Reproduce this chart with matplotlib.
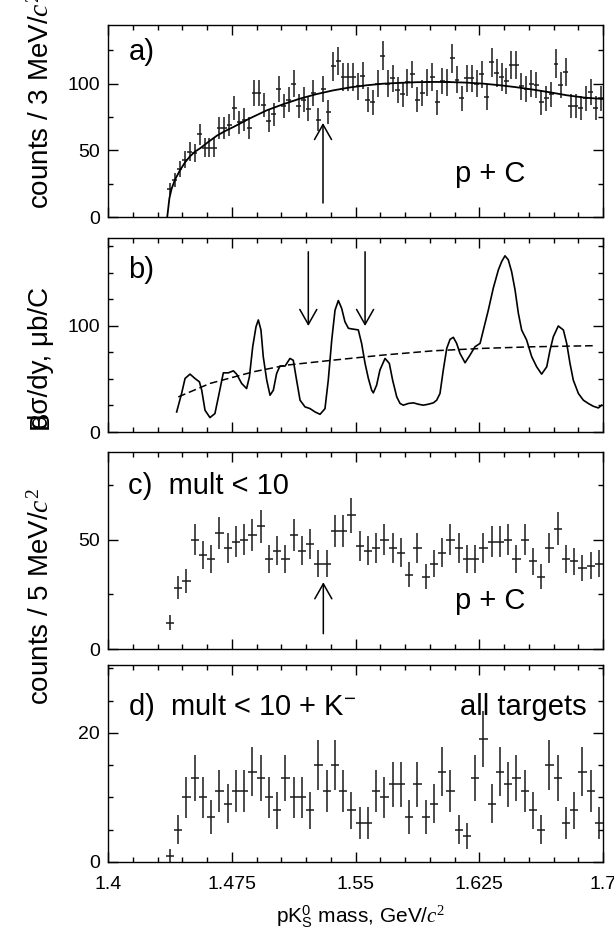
import numpy as np
import matplotlib
matplotlib.use("Agg")
import matplotlib.pyplot as plt
from matplotlib import font_manager as fm
from matplotlib.ticker import FixedLocator, MultipleLocator

# ---------------- data ----------------
# a) p + C, counts per 3 MeV/c^2
BIN_A = 0.003
mass_a = 1.4375 + BIN_A * np.arange(88)
counts_a = [21, 28, 36, 43, 49, 48, 62, 52, 52, 52,
            67, 67, 69, 82, 71, 73, 67, 93, 93, 84,
            72, 77, 96, 83, 88, 100, 83, 88, 81, 93,
            73, 96, 79, 113, 117, 105, 105, 105, 98, 106,
            88, 86, 100, 121, 100, 104, 95, 92, 101, 107,
            88, 93, 101, 105, 86, 102, 101, 119, 103, 89,
            104, 104, 100, 107, 90, 116, 108, 105, 102, 114,
            114, 98, 96, 100, 99, 86, 89, 92, 115, 99,
            109, 83, 83, 82, 89, 94, 82, 89]

# background fit drawn over a)
fit_mass_a = [1.4359, 1.4372, 1.4385, 1.4406, 1.4436, 1.4467, 1.4497, 1.4527,
              1.4558, 1.4610, 1.4660, 1.4710, 1.4760, 1.4860, 1.4962, 1.5060,
              1.5164, 1.5265, 1.5366, 1.5467, 1.5568, 1.5670, 1.5770, 1.5870,
              1.5970, 1.6070, 1.6170, 1.6275, 1.6376, 1.6477, 1.6578, 1.6679,
              1.6780, 1.6890, 1.7000]
fit_vals_a = [0, 14, 21, 28, 35, 41, 45.5, 49,
              51.5, 56.5, 61, 64.5, 67.5, 74, 80, 84.5,
              88.8, 92.2, 95, 97.2, 98.8, 100, 100.6, 101.1,
              101.3, 101.2, 100.8, 100, 98.8, 97.3, 95.5, 93.5,
              91.3, 89.5, 88.5]

# b) d sigma / dy spectrum and its smooth background
xsec_mass_b = [1.4416, 1.4446, 1.4467, 1.4497, 1.4527, 1.4554, 1.4568, 1.4588, 1.4618, 1.4648,
               1.4669, 1.4699, 1.4729, 1.4760, 1.4780, 1.4810, 1.4840, 1.4857, 1.4877, 1.4897,
               1.4911, 1.4927, 1.4941, 1.4962, 1.4982, 1.5002, 1.5022, 1.5042, 1.5073, 1.5103,
               1.5123, 1.5143, 1.5164, 1.5194, 1.5224, 1.5255, 1.5285, 1.5315, 1.5335, 1.5356,
               1.5376, 1.5396, 1.5416, 1.5436, 1.5457, 1.5487, 1.5517, 1.5537, 1.5558, 1.5578,
               1.5598, 1.5608, 1.5628, 1.5648, 1.5679, 1.5705, 1.5725, 1.5750, 1.5770, 1.5790,
               1.5820, 1.5851, 1.5881, 1.5911, 1.5941, 1.5972, 1.5992, 1.6012, 1.6032, 1.6053,
               1.6073, 1.6093, 1.6113, 1.6133, 1.6164, 1.6194, 1.6224, 1.6255, 1.6275, 1.6305,
               1.6335, 1.6366, 1.6386, 1.6406, 1.6426, 1.6446, 1.6467, 1.6487, 1.6507, 1.6537,
               1.6568, 1.6598, 1.6628, 1.6659, 1.6679, 1.6699, 1.6729, 1.6760, 1.6780, 1.6800,
               1.6820, 1.6851, 1.6881, 1.6911, 1.6941, 1.6972, 1.6992]
xsec_vals_b = [18.9, 36.3, 50.5, 54.6, 50.5, 47.3, 39.4, 20.5, 13.6, 17.4,
               33.0, 55.8, 55.8, 57.7, 54.5, 45.8, 41.0, 52.0, 80.4, 99.3,
               105.7, 96.2, 71.0, 48.9, 34.7, 39.4, 55.2, 62.2, 62.2, 69.4,
               67.6, 48.9, 30.0, 23.7, 22.1, 18.9, 16.7, 22.0, 48.9, 86.8,
               115.0, 124.0, 116.7, 104.0, 97.8, 97.0, 96.3, 83.6, 64.7, 50.5,
               39.4, 36.9, 44.2, 58.4, 69.4, 64.7, 48.9, 33.1, 26.9, 25.3,
               26.9, 27.5, 26.2, 25.3, 26.2, 27.5, 30.0, 36.3, 58.4, 78.9,
               87.4, 89.3, 83.6, 74.2, 65.3, 72.6, 80.4, 83.6, 96.2, 115.0,
               135.7, 153.0, 160.8, 166.2, 162.4, 151.4, 134.0, 112.0, 96.2, 86.8,
               71.0, 61.5, 54.6, 61.5, 77.3, 89.9, 100.0, 96.2, 83.6, 64.7,
               48.9, 36.3, 30.0, 26.9, 24.3, 22.7, 25.3]
bkg_mass_b = [1.4426, 1.4618, 1.4881, 1.5083, 1.5366, 1.5669, 1.5972, 1.6275, 1.6578, 1.6941]
bkg_vals_b = [33.1, 45.8, 56.8, 63.1, 67.8, 72.6, 76.6, 78.9, 80.4, 81.4]

# c) mult < 10 (p + C) and d) mult < 10 + K- (all targets), counts per 5 MeV/c^2
BIN_CD = 0.005
mass_cd = 1.4375 + BIN_CD * np.arange(53)
counts_c = [12, 28, 31, 50, 43, 41, 53, 46, 49, 50,
            52, 56, 41, 45, 41, 52, 45, 48, 39, 39,
            54, 54, 61, 47, 45, 46, 50, 46, 44, 34,
            46, 33, 39, 44, 50, 46, 41, 41, 46, 49,
            49, 50, 41, 50, 40, 33, 46, 55, 41, 40,
            37, 38, 39]
counts_d = [1, 5, 10, 13, 10, 7, 11, 9, 11, 11,
            14, 13, 10, 8, 13, 10, 10, 8, 15, 11,
            15, 11, 8, 6, 6, 11, 10, 12, 12, 7,
            12, 7, 9, 14, 11, 5, 4, 13, 19, 9,
            14, 12, 13, 11, 8, 5, 15, 13, 6, 8,
            14, 11, 6]

# marked mass positions
arrow_mass_a = 1.5303
arrow_mass_b = [1.5214, 1.5558]
arrow_mass_c = 1.5305

x_ticks = [1.4, 1.475, 1.55, 1.625, 1.7]
x_ticklabels = ["1.4", "1.475", "1.55", "1.625", "1.7"]

# ---------------- style ----------------
names = {f.name for f in fm.fontManager.ttflist}
SANS = "Liberation Sans" if "Liberation Sans" in names else "DejaVu Sans"
NARROW = "Liberation Sans Narrow" if "Liberation Sans Narrow" in names else SANS

plt.rcParams["font.family"] = [SANS, "DejaVu Sans"]
plt.rcParams["mathtext.fontset"] = "custom"
plt.rcParams["mathtext.rm"] = "Liberation Serif"
plt.rcParams["mathtext.it"] = "Liberation Serif:italic"
plt.rcParams["mathtext.sf"] = "Liberation Sans"
plt.rcParams["axes.linewidth"] = 1.0

W, H = 614, 938
fig = plt.figure(figsize=(W / 100, H / 100), dpi=100)


def px_axes(top, bottom, left=108, right=603):
    return fig.add_axes([left / W, 1 - bottom / H, (right - left) / W, (bottom - top) / H])


ax_a = px_axes(25, 217)
ax_b = px_axes(238, 432)
ax_c = px_axes(452, 649)
ax_d = px_axes(665, 862)
axes = [ax_a, ax_b, ax_c, ax_d]

y_setup = {
    ax_a: (144, [0, 50, 100], 25),
    ax_b: (183, [0, 100], 25),
    ax_c: (90, [0, 50], 25),
    ax_d: (30.5, [0, 20], 5),
}

for ax in axes:
    ax.set_xlim(1.4, 1.7)
    ax.xaxis.set_major_locator(FixedLocator(x_ticks))
    ax.xaxis.set_minor_locator(FixedLocator(1.4 + 0.015 * np.arange(21)))
    ymax, majors, minor = y_setup[ax]
    ax.set_ylim(0, ymax)
    ax.yaxis.set_major_locator(FixedLocator(majors))
    ax.yaxis.set_minor_locator(MultipleLocator(minor))
    ax.tick_params(which="both", direction="in", top=True, right=True, width=1.0,
                   labelsize=14)
    ax.tick_params(which="major", length=7.5)
    ax.tick_params(which="minor", length=3.6)
    ax.tick_params(axis="y", pad=6)
    ax.tick_params(axis="x", pad=10)
    if ax is ax_d:
        ax.set_xticklabels(x_ticklabels)
    else:
        ax.tick_params(labelbottom=False)

ERR_KW = dict(fmt="none", ecolor="#1a1a1a", elinewidth=1.1, capsize=0)
TXT_KW = dict(fontsize=21, va="baseline", family=SANS)


def arrow(ax, x, tail, tip):
    ax.annotate("", xy=(x, tip), xytext=(x, tail),
                arrowprops=dict(arrowstyle="->,head_length=0.6,head_width=0.34",
                                lw=1.1, color="black", shrinkA=0, shrinkB=0,
                                mutation_scale=18))


# a)
ax_a.errorbar(mass_a, counts_a, yerr=np.sqrt(counts_a), xerr=BIN_A / 2, **ERR_KW)
ax_a.plot(fit_mass_a, fit_vals_a, color="black", lw=1.3)
arrow(ax_a, arrow_mass_a, 10.5, 70.5)
ax_a.text(1.4123, 117.5, "a)", **TXT_KW)
ax_a.text(1.6103, 26, "p + C", **TXT_KW)

# b)
ax_b.plot(xsec_mass_b, xsec_vals_b, color="black", lw=1.2)
ax_b.plot(bkg_mass_b, bkg_vals_b, color="black", lw=1.1, ls=(0, (5, 2.5)))
for m in arrow_mass_b:
    arrow(ax_b, m, 170, 100)
ax_b.text(1.4123, 145, "b)", **TXT_KW)

# c)
ax_c.errorbar(mass_cd, counts_c, yerr=np.sqrt(counts_c), xerr=BIN_CD / 2, **ERR_KW)
arrow(ax_c, arrow_mass_c, 7, 30.5)
ax_c.text(1.4123, 70.8, "c)  mult < 10", **TXT_KW)
ax_c.text(1.6103, 18.5, "p + C", **TXT_KW)

# d)
ax_d.errorbar(mass_cd, counts_d, yerr=np.sqrt(counts_d), xerr=BIN_CD / 2, **ERR_KW)
ax_d.text(1.4123, 22.8, r"d)  mult < 10 + K$^{\mathsf{-}}$", **TXT_KW)
ax_d.text(1.6901, 22.8, "all targets", ha="right", **TXT_KW)

# axis titles
LBL_KW = dict(rotation=90, ha="center", va="bottom", fontsize=20, family=[NARROW, "DejaVu Sans"])
fig.text(41 / W, 1 - 209 / H, r"counts / 3 MeV/$c^{2}$", **LBL_KW)
fig.text(41 / W, 1 - 429 / H, "dσ/dy, μb/C", **LBL_KW)
fig.text(41 / W, 1 - 429 / H, "B", **LBL_KW)
fig.text(41 / W, 1 - 705 / H, r"counts / 5 MeV/$c^{2}$", **LBL_KW)
fig.text(361 / W, 1 - 923 / H,
         r"$\mathsf{pK}^{\mathsf{0}}_{\mathsf{S}}$ mass, GeV/$c^{2}$",
         ha="center", va="baseline", fontsize=15, family=SANS)

fig.savefig("out.png", dpi=100)
